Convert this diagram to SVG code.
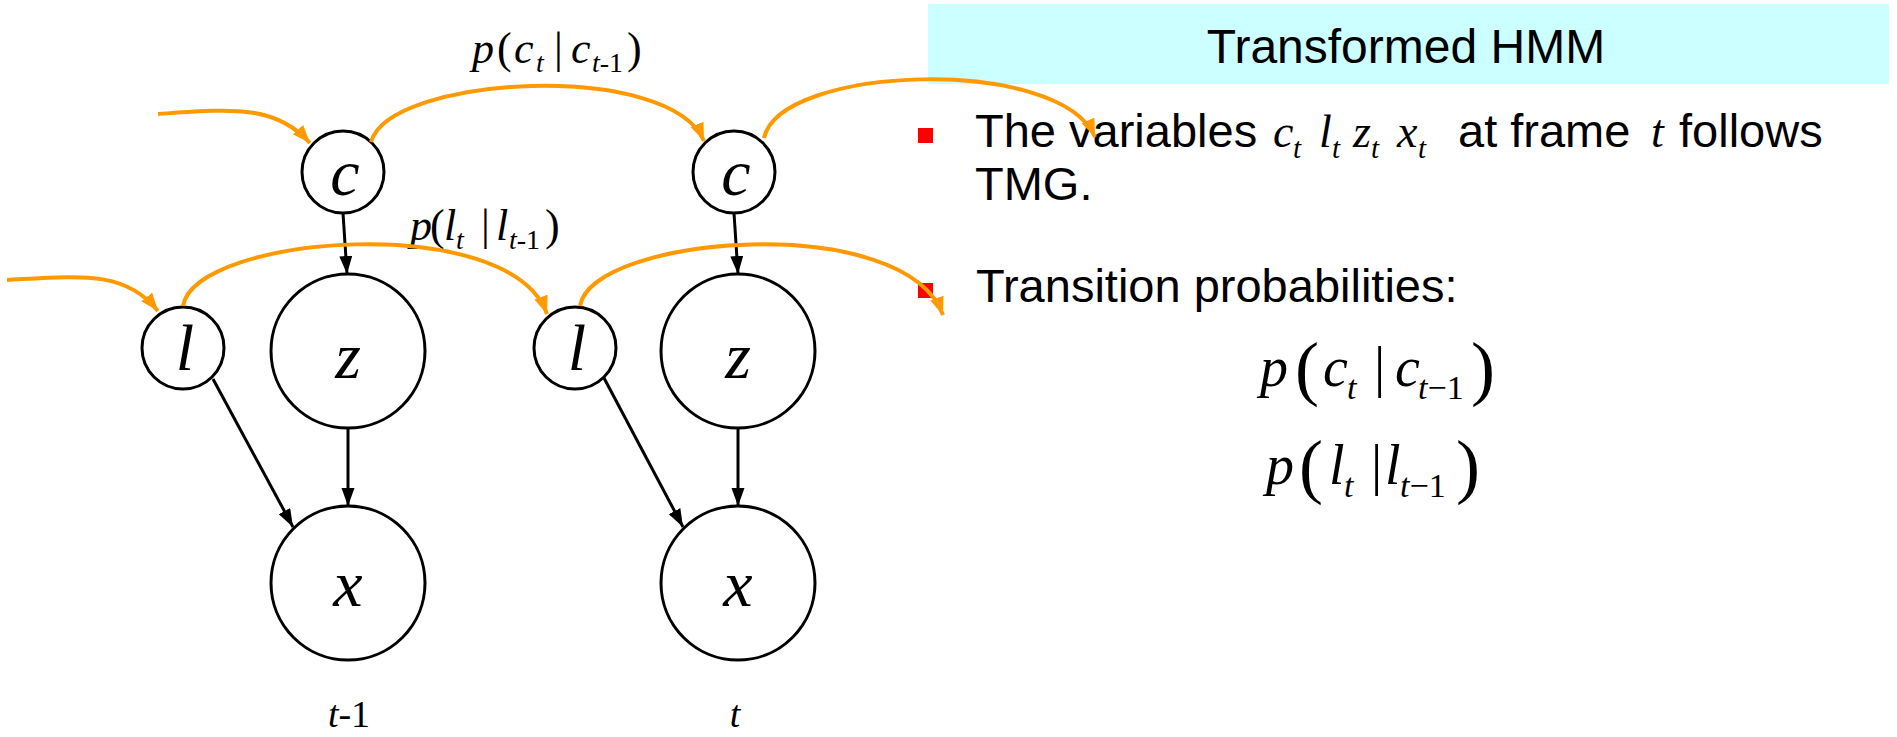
<svg xmlns="http://www.w3.org/2000/svg" width="1897" height="737" viewBox="0 0 1897 737">
<style>
.node{fill:#fff;stroke:#000;stroke-width:3}
.nl{font-family:"Liberation Serif","Times New Roman",serif;font-style:italic;font-size:66px;fill:#000;text-anchor:middle}
.m{font-family:"Liberation Serif","Times New Roman",serif;fill:#000}
.i{font-style:italic}
.sans{font-family:"Liberation Sans",Arial,sans-serif;fill:#000}
.blk{fill:none;stroke:#000;stroke-width:3}
.org{fill:none;stroke:#FF9900;stroke-width:4}
</style>
<defs>
<marker id="ab" markerUnits="userSpaceOnUse" markerWidth="20" markerHeight="14" refX="18" refY="6.5" orient="auto"><path d="M0,0 L18,6.5 L0,13 z" fill="#000"/></marker>
<marker id="ao" markerUnits="userSpaceOnUse" markerWidth="20" markerHeight="16" refX="18" refY="7" orient="auto"><path d="M0,0 L18,7 L0,14 z" fill="#FF9900"/></marker>
</defs>

<g id="panel">
<rect x="928" y="4" width="961" height="80" fill="#CCFFFF"/>
<text class="sans" x="1406" y="63" font-size="48" text-anchor="middle">Transformed HMM</text>
<rect x="918" y="128" width="15" height="15" fill="#FF0000"/>
<text class="sans" y="147" font-size="47"><tspan x="975">The variables</tspan></text>
<text class="m i" y="147" font-size="46"><tspan x="1273">c</tspan><tspan x="1293" y="158" font-size="29">t</tspan><tspan x="1319" y="147">l</tspan><tspan x="1332" y="158" font-size="29">t</tspan><tspan x="1353" y="147">z</tspan><tspan x="1371" y="158" font-size="29">t</tspan><tspan x="1397" y="147">x</tspan><tspan x="1418" y="158" font-size="29">t</tspan><tspan x="1651" y="147">t</tspan></text>
<text class="sans" y="147" font-size="47"><tspan x="1458">at frame</tspan><tspan x="1679">follows</tspan></text>
<text class="sans" x="975" y="200" font-size="47">TMG.</text>
<rect x="918" y="283" width="15" height="15" fill="#FF0000"/>
<text class="sans" x="976" y="302" font-size="47">Transition probabilities:</text>
</g>

<g id="formula-c">
<text class="m" font-size="56" y="386"><tspan class="i" x="1260">p</tspan><tspan x="1295" y="392" font-size="72">(</tspan><tspan class="i" x="1323" y="386">c</tspan><tspan class="i" x="1347" y="399" font-size="34">t</tspan><tspan x="1374" y="386">|</tspan><tspan class="i" x="1395">c</tspan><tspan x="1418" y="399" font-size="34"><tspan class="i">t</tspan>−1</tspan><tspan x="1471" y="392" font-size="72">)</tspan></text>
</g>
<g id="formula-l">
<text class="m" font-size="56" y="484"><tspan class="i" x="1266">p</tspan><tspan x="1299" y="490" font-size="72">(</tspan><tspan class="i" x="1329" y="484">l</tspan><tspan class="i" x="1344" y="497" font-size="34">t</tspan><tspan x="1371" y="484">|</tspan><tspan class="i" x="1385">l</tspan><tspan x="1400" y="497" font-size="34"><tspan class="i">t</tspan>−1</tspan><tspan x="1456" y="490" font-size="72">)</tspan></text>
</g>

<g id="label-pc">
<text class="m" font-size="44" y="63"><tspan class="i" x="472">p</tspan><tspan x="497">(</tspan><tspan class="i" x="514">c</tspan><tspan class="i" x="536" y="72" font-size="28">t</tspan><tspan x="554" y="63">|</tspan><tspan class="i" x="571">c</tspan><tspan x="592" y="72" font-size="28"><tspan class="i">t</tspan>-1</tspan><tspan x="627" y="63">)</tspan></text>
</g>
<g id="label-pl">
<text class="m" font-size="44" y="240"><tspan class="i" x="410">p</tspan><tspan x="430">(</tspan><tspan class="i" x="444">l</tspan><tspan class="i" x="456" y="249" font-size="28">t</tspan><tspan x="481" y="240">|</tspan><tspan class="i" x="496">l</tspan><tspan x="509" y="249" font-size="28"><tspan class="i">t</tspan>-1</tspan><tspan x="545" y="240">)</tspan></text>
</g>

<g id="n-c1"><circle class="node" cx="343" cy="172" r="41"/><text class="nl" x="345" y="195">c</text></g>
<g id="n-l1"><circle class="node" cx="183" cy="348" r="41"/><text class="nl" x="185" y="370">l</text></g>
<g id="n-z1"><circle class="node" cx="348" cy="351" r="77"/><text class="nl" x="348" y="378">z</text></g>
<g id="n-x1"><circle class="node" cx="348" cy="583" r="77"/><text class="nl" x="348" y="606">x</text></g>
<g id="n-c2"><circle class="node" cx="734" cy="172" r="41"/><text class="nl" x="736" y="195">c</text></g>
<g id="n-l2"><circle class="node" cx="575" cy="348" r="41"/><text class="nl" x="577" y="370">l</text></g>
<g id="n-z2"><circle class="node" cx="738" cy="351" r="77"/><text class="nl" x="738" y="378">z</text></g>
<g id="n-x2"><circle class="node" cx="738" cy="583" r="77"/><text class="nl" x="738" y="606">x</text></g>

<g id="time-labels">
<text class="m" font-size="38" x="349" y="727" text-anchor="middle"><tspan class="i">t</tspan>-1</text>
<text class="m i" font-size="38" x="735" y="727" text-anchor="middle">t</text>
</g>

<g id="connectors">
<path class="blk" d="M343,213 L347,274" marker-end="url(#ab)"/>
<path class="blk" d="M348,428 L348,506" marker-end="url(#ab)"/>
<path class="blk" d="M213,379 L293,527" marker-end="url(#ab)"/>
<path class="blk" d="M734,213 L738,274" marker-end="url(#ab)"/>
<path class="blk" d="M738,428 L738,506" marker-end="url(#ab)"/>
<path class="blk" d="M604,378 L683,527" marker-end="url(#ab)"/>
<path class="org" d="M158,114 C230,109 275,104 310,143" marker-end="url(#ao)"/>
<path class="org" d="M7,280 C80,276 125,270 158,311" marker-end="url(#ao)"/>
<path class="org" d="M371,142 C390,75 670,60 704,141" marker-end="url(#ao)"/>
<path class="org" d="M764,138 C780,65 1060,55 1095,137" marker-end="url(#ao)"/>
<path class="org" d="M183,306 C195,235 510,210 547,314" marker-end="url(#ao)"/>
<path class="org" d="M580,306 C592,235 905,210 943,315" marker-end="url(#ao)"/>
</g>
</svg>
